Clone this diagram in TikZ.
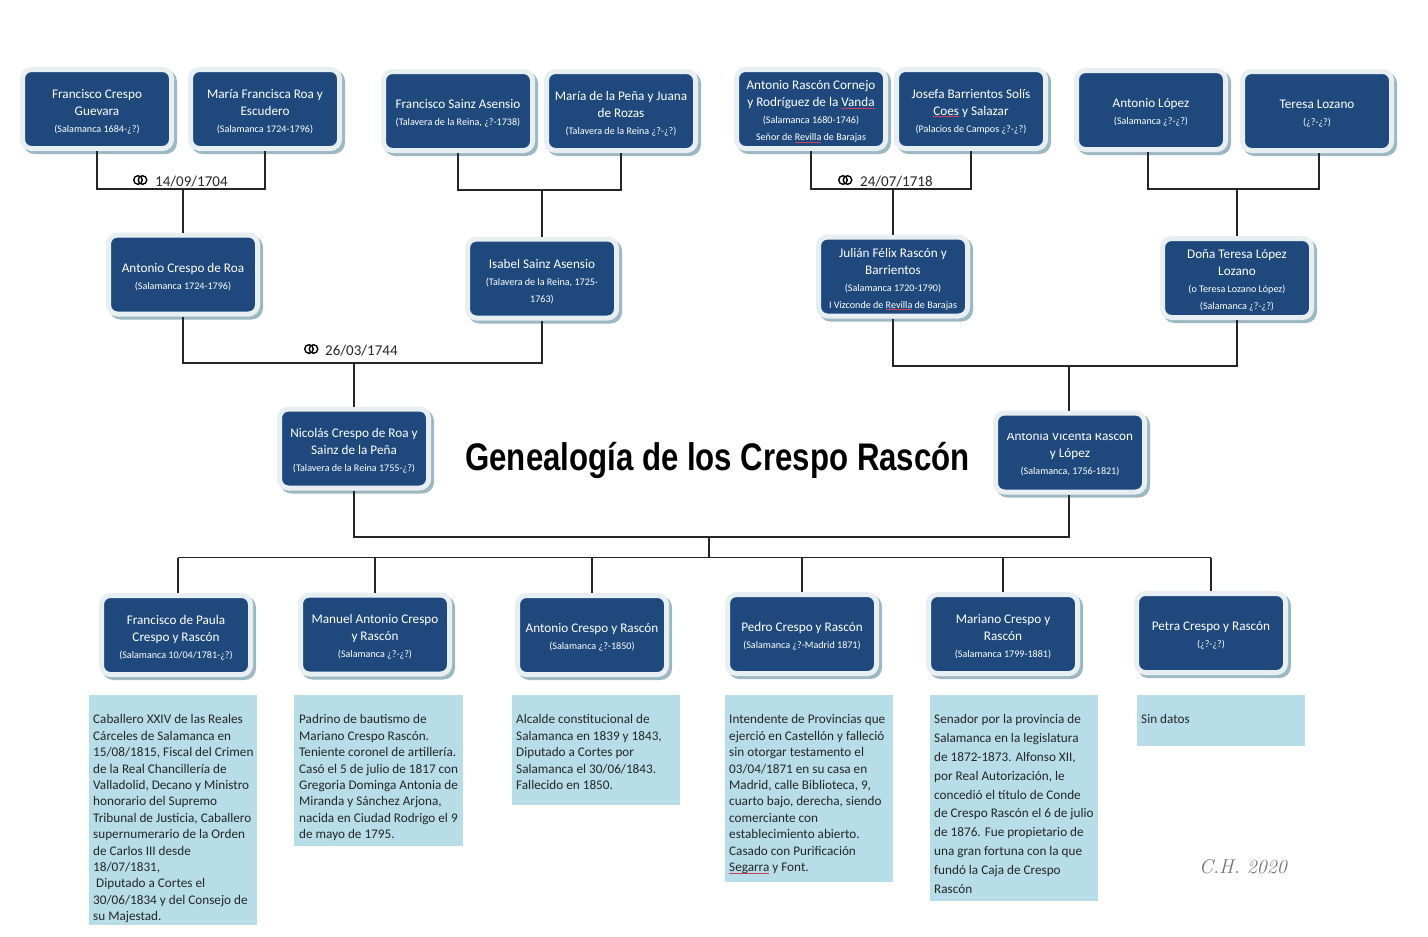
\documentclass[tikz,border=0pt]{standalone}
\usepackage{fontspec}
\newfontfamily\carlito{Carlito}
\newfontfamily\titlefont[FakeStretch=0.81]{Liberation Sans}
\usetikzlibrary{calc}
\definecolor{boxblue}{HTML}{1F497D}
\definecolor{halo}{HTML}{E8EFF2}
\definecolor{shade}{HTML}{9DB8C2}
\definecolor{notefill}{HTML}{B7DDE8}
\definecolor{inkline}{HTML}{262626}
\definecolor{squig}{HTML}{D0405A}
\newcommand\dt[1]{{\fontsize{10.1pt}{17pt}\selectfont #1}}
\newcommand\sq[1]{\setbox0\hbox{#1}\rlap{\raisebox{-1.8pt}{\color{squig}\rule{\wd0}{0.7pt}}}\box0\relax}
% width, height, leading, top gap, text
\newcommand\notetxt[5]{\parbox[c][#2pt][t]{#1pt}{\raggedright\fontsize{13.2pt}{#3pt}\selectfont\vspace*{#4pt}#5}}
\tikzset{
  x=1pt,y=-1pt,
  person/.style={rectangle,rounded corners=9pt,fill=boxblue,draw=halo,line width=5pt,
    preaction={draw=shade,line width=5pt,transform canvas={shift={(3pt,-3pt)}}},
    minimum width=149pt,minimum height=79pt,inner sep=0pt,text=white,align=center,
    font=\carlito\fontsize{13.2pt}{17pt}\selectfont,
    text height=48.4pt},
  twoline/.style={text height=31.4pt},
  fourline/.style={text height=65.4pt},
  cutline/.style={text height=45pt},
  notebox/.style={rectangle,fill=notefill,inner sep=0pt,anchor=north west,text=black!85,
    font=\carlito},
  link/.style={draw=inkline,line width=1.2pt},
  ring/.style={draw=black,line width=1.4pt},
  datelabel/.style={font=\carlito\fontsize{15pt}{16pt}\selectfont,text=black!85,anchor=west,inner sep=0pt},
}
\begin{document}
\begin{tikzpicture}
\useasboundingbox (0,0) rectangle (1428,937);
% generation 1
\node[person] (fc) at (97,109) {Francisco Crespo\\Guevara\\\dt{(Salamanca 1684-¿?)}};
\node[person] (mf) at (265,109) {María Francisca Roa y\\Escudero\\\dt{(Salamanca 1724-1796)}};
\node[person,twoline] (fs) at (458,111) {Francisco Sainz Asensio\\\dt{(Talavera de la Reina, ¿?-1738)}};
\node[person] (mp) at (621,111) {María de la Peña y Juana\\de Rozas\\\dt{(Talavera de la Reina ¿?-¿?)}};
\node[person,fourline] (ar) at (811,109) {Antonio Rascón Cornejo\\y Rodríguez de la \sq{Vanda}\\\dt{(Salamanca 1680-1746)}\\\dt{Señor de \sq{Revilla} de Barajas}};
\node[person] (jb) at (971,109) {Josefa Barrientos Solís\\\sq{Coes} y Salazar\\\dt{(Palacios de Campos ¿?-¿?)}};
\node[person,twoline] (al) at (1151,110) {Antonio López\\\dt{(Salamanca ¿?-¿?)}};
\node[person,twoline] (tl) at (1317,111) {Teresa Lozano\\\dt{(¿?-¿?)}};
% generation 2
\node[person,twoline] (ac) at (183,274.5) {Antonio Crespo de Roa\\\dt{(Salamanca 1724-1796)}};
\node[person] (is) at (542,278.5) {Isabel Sainz Asensio\\\dt{(Talavera de la Reina, 1725-}\\\dt{1763)}};
\node[person,fourline] (jf) at (893,276.5) {Julián Félix Rascón y\\Barrientos\\\dt{(Salamanca 1720-1790)}\\\dt{I Vizconde de \sq{Revilla} de Barajas}};
\node[person,fourline] (dt) at (1237,278) {Doña Teresa López\\Lozano\\\dt{(o Teresa Lozano López)}\\\dt{(Salamanca ¿?-¿?)}};
% generation 3
\node[person] (nc) at (354,448.5) {Nicolás Crespo de Roa y\\Sainz de la Peña\\\dt{(Talavera de la Reina 1755-¿?)}};
\node[person,cutline] (av) at (1070,452.5) {Antonia Vicenta Rascón\\y López\\\dt{(Salamanca, 1756-1821)}};
\fill[boxblue] (1002,418) rectangle (1138,433);
% generation 4
\node[person] (k1) at (176,635) {Francisco de Paula\\Crespo y Rascón\\\dt{(Salamanca 10/04/1781-¿?)}};
\node[person] (k2) at (375,634.5) {Manuel Antonio Crespo\\y Rascón\\\dt{(Salamanca ¿?-¿?)}};
\node[person,twoline] (k3) at (592,635) {Antonio Crespo y Rascón\\\dt{(Salamanca ¿?-1850)}};
\node[person,twoline] (k4) at (802,634) {Pedro Crespo y Rascón\\\dt{(Salamanca ¿?-Madrid 1871)}};
\node[person] (k5) at (1003,634) {Mariano Crespo y\\Rascón\\\dt{(Salamanca 1799-1881)}};
\node[person,twoline] (k6) at (1211,633) {Petra Crespo y Rascón\\\dt{(¿?-¿?)}};
% junctions
\coordinate (j1) at (183,189);
\coordinate (j2) at (542,190);
\coordinate (j3) at (893,189);
\coordinate (j4) at (1237,189);
\coordinate (j4l) at (1148,189);
\coordinate (j4r) at (1319,189);
\coordinate (j5) at (354,363);
\coordinate (j6) at (1069,366);
\coordinate (j7) at (709,537);
\coordinate (j8) at (709,557.5);
\coordinate (d1) at (178,557.5);
\coordinate (d6) at (1211,557.5);
% connectors
\draw[link] (fc.south) |- (j1) -| (mf.south);
\draw[link] (j1) -- (ac.north);
\draw[link] (fs.south) |- (j2) -| (mp.south);
\draw[link] (j2) -- (is.north);
\draw[link] (ar.south) |- (j3) -| (jb.south);
\draw[link] (j3) -- (jf.north);
\draw[link] (al.south -| j4l) -- (j4l) -- (j4r) -- (tl.south -| j4r);
\draw[link] (j4) -- (dt.north);
\draw[link] (ac.south) |- (j5) -| (is.south);
\draw[link] (j5) -- (nc.north);
\draw[link] (jf.south) |- (j6) -| (dt.south);
\draw[link] (j6) -- (av.north -| j6);
\draw[link] (nc.south) |- (j7) -| (av.south -| j6);
\draw[link] (j7) -- (j8);
\draw[link] (d1) -- (d6);
\draw[link] (d1) -- (k1.north -| d1);
\draw[link] (k2.north |- d1) -- (k2.north);
\draw[link] (k3.north |- d1) -- (k3.north);
\draw[link] (k4.north |- d1) -- (k4.north);
\draw[link] (k5.north |- d1) -- (k5.north);
\draw[link] (d6) -- (k6.north -| d6);
% marriages
\draw[ring] (138,180) circle (4.3) (142.5,180) circle (4.3);
\node[datelabel] (m1) at (155,182) {14/09/1704};
\draw[ring] (843,180) circle (4.3) (847.5,180) circle (4.3);
\node[datelabel] (m2) at (860,182) {24/07/1718};
\draw[ring] (309,349) circle (4.3) (313.5,349) circle (4.3);
\node[datelabel] (m3) at (325,351) {26/03/1744};
% title
\node[font=\titlefont\bfseries\fontsize{38.5pt}{40pt}\selectfont,text=black,inner sep=0pt] (title) at (717.5,460.5) {Genealogía de los Crespo Rascón};
% notes
\node[notebox] (n1) at (89,695) {\notetxt{168}{230}{16.4}{19.5}{\hspace*{4pt}Caballero XXIV de las Reales\\\hspace*{4pt}Cárceles de Salamanca en\\\hspace*{4pt}15/08/1815, Fiscal del Crimen\\\hspace*{4pt}de la Real Chancillería de\\\hspace*{4pt}Valladolid, Decano y Ministro\\\hspace*{4pt}honorario del Supremo\\\hspace*{4pt}Tribunal de Justicia, Caballero\\\hspace*{4pt}supernumerario de la Orden\\\hspace*{4pt}de Carlos III desde\\\hspace*{4pt}18/07/1831,\\\hspace*{7pt}Diputado a Cortes el\\\hspace*{4pt}30/06/1834 y del Consejo de\\\hspace*{4pt}su Majestad.}};
\node[notebox] (n2) at (294,695) {\notetxt{169}{151}{16.4}{19.5}{\hspace*{5pt}Padrino de bautismo de\\\hspace*{5pt}Mariano Crespo Rascón.\\\hspace*{5pt}Teniente coronel de artillería.\\\hspace*{5pt}Casó el 5 de julio de 1817 con\\\hspace*{5pt}Gregoria Dominga Antonia de\\\hspace*{5pt}Miranda y Sánchez Arjona,\\\hspace*{5pt}nacida en Ciudad Rodrigo el 9\\\hspace*{5pt}de mayo de 1795.}};
\node[notebox] (n3) at (512,695) {\notetxt{168}{110}{16.4}{19.5}{\hspace*{4pt}Alcalde constitucional de\\\hspace*{4pt}Salamanca en 1839 y 1843,\\\hspace*{4pt}Diputado a Cortes por\\\hspace*{4pt}Salamanca el 30/06/1843.\\\hspace*{4pt}Fallecido en 1850.}};
\node[notebox] (n4) at (725,695) {\notetxt{168}{187}{16.4}{19.5}{\hspace*{4pt}Intendente de Provincias que\\\hspace*{4pt}ejerció en Castellón y falleció\\\hspace*{4pt}sin otorgar testamento el\\\hspace*{4pt}03/04/1871 en su casa en\\\hspace*{4pt}Madrid, calle Biblioteca, 9,\\\hspace*{4pt}cuarto bajo, derecha, siendo\\\hspace*{4pt}comerciante con\\\hspace*{4pt}establecimiento abierto.\\\hspace*{4pt}Casado con Purificación\\\hspace*{4pt}\sq{Segarra} y Font.}};
\node[notebox] (n5) at (930,695) {\notetxt{168}{206}{18.8}{19.5}{\hspace*{4pt}Senador por la provincia de\\\hspace*{4pt}Salamanca en la legislatura\\\hspace*{4pt}de 1872-1873. Alfonso XII,\\\hspace*{4pt}por Real Autorización, le\\\hspace*{4pt}concedió el título de Conde\\\hspace*{4pt}de Crespo Rascón el 6 de julio\\\hspace*{4pt}de 1876. Fue propietario de\\\hspace*{4pt}una gran fortuna con la que\\\hspace*{4pt}fundó la Caja de Crespo\\\hspace*{4pt}Rascón}};
\node[notebox] (n6) at (1137,695) {\notetxt{168}{51}{16.4}{19.5}{\hspace*{4pt}Sin datos}};
% signature
\node[font=\itshape\fontsize{20pt}{22pt}\selectfont,text=black!55,inner sep=0pt] (sig) at (1243,867) {C.H. 2020};
\end{tikzpicture}
\end{document}
